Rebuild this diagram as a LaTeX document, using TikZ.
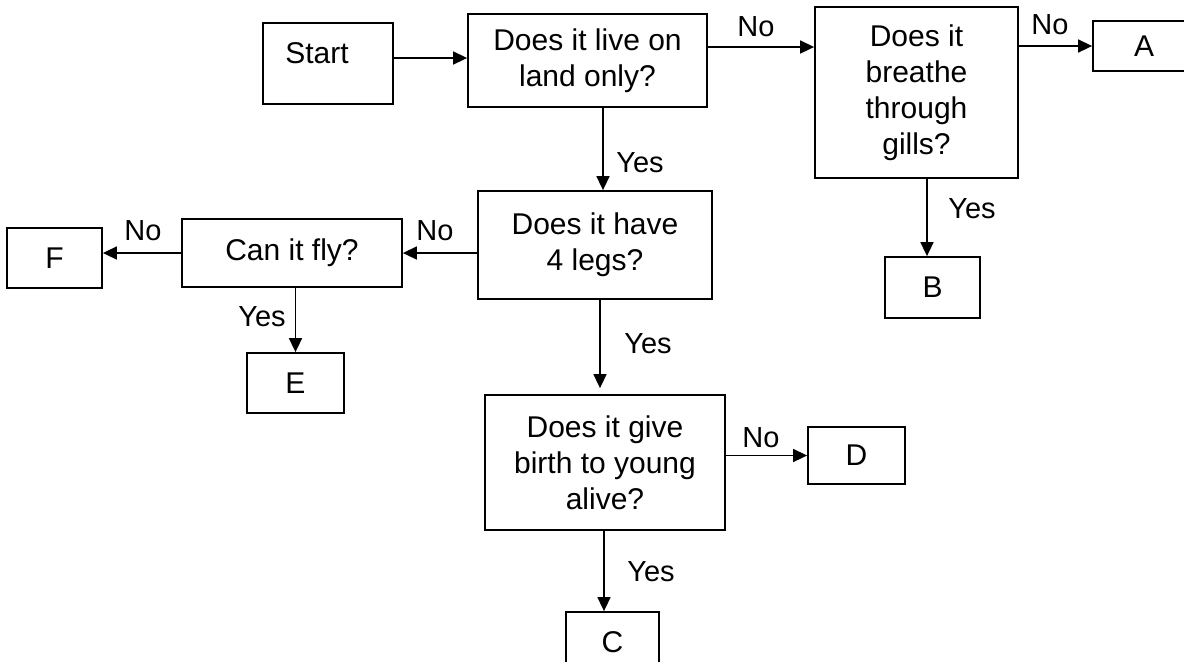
\documentclass[tikz,border=0pt]{standalone}
\usepackage{fontspec}
\setmainfont{Liberation Sans}
\usetikzlibrary{arrows.meta}
\tikzset{
  box/.style={draw, line width=0.9pt, inner sep=0pt, align=center,
    font=\fontsize{15pt}{18pt}\selectfont},
  lbl/.style={inner sep=0pt, font=\fontsize{14.5pt}{16pt}\selectfont},
  arr/.style={line width=0.8pt, -{Triangle[length=7pt,width=6.5pt]}}
}
\begin{document}
\begin{tikzpicture}[x=0.5pt,y=-0.5pt]
\useasboundingbox (0,0) rectangle (1184,661);
% boxes
\node[box, minimum width=65pt, minimum height=40.5pt] (start) at (328,63.5) {\smash{Start}\hspace*{11pt}};
\node[box, minimum width=119.5pt, minimum height=46.5pt] (q1) at (587.5,60.5) {Does it live on\\land only?};
\node[box, minimum width=101.5pt, minimum height=85.5pt] (q2) at (916.5,92.5) {Does it\\breathe\\through\\gills?};
\node[box, minimum width=51pt, minimum height=25pt] (A) at (1144,46) {A};
\node[box, minimum width=47.5pt, minimum height=30.5pt] (B) at (932.5,287.5) {B};
\node[box, minimum width=117pt, minimum height=54pt] (q3) at (595,245) {Does it have\\4 legs?};
\node[box, minimum width=110pt, minimum height=34pt] (fly) at (292,253) {Can it fly?};
\node[box, minimum width=47.5pt, minimum height=30pt] (F) at (54.5,258) {F};
\node[box, minimum width=48.5pt, minimum height=30pt] (E) at (295.5,383) {E};
\node[box, minimum width=120pt, minimum height=67.5pt] (q4) at (605,462.5) {Does it give\\birth to young\\alive?};
\node[box, minimum width=48.5pt, minimum height=28.5pt] (D) at (856.5,455.5) {D};
\node[box, minimum width=46.5pt, minimum height=30pt] (C) at (612.5,642) {C};
% helper coordinates
\coordinate (s1) at ([yshift=2.75pt]start.east);
\coordinate (q1r) at ([yshift=6.75pt]q1.east);
\coordinate (q3in) at ([xshift=4pt]q3.north);
\coordinate (bin) at ([xshift=-2.75pt]B.north);
\coordinate (q4in) at ([xshift=-2.5pt]q4.north);
\coordinate (cin) at ([xshift=-4.25pt]C.north);
% connectors
\draw[arr] (s1) -- (s1 -| q1.west);
\draw[arr] (q1r) -- (q1r -| q2.west);
\draw[arr] (q2.east |- A.west) -- (A.west);
\draw[arr] (q3in |- q1.south) -- (q3in);
\draw[arr] (bin |- q2.south) -- (bin);
\draw[arr] (q3.west |- fly.east) -- (fly.east);
\draw[arr] (fly.west) -- (fly.west -| F.east);
\draw[arr] (E.north |- fly.south) -- (E.north);
\draw[arr, shorten >=3pt] (q4in |- q3.south) -- (q4in);
\draw[arr] (q4.east |- D.west) -- (D.west);
\draw[arr] (cin |- q4.south) -- (cin);
% labels
\node[lbl] (l1) at (756,27) {No};
\node[lbl] (l2) at (1050,25) {No};
\node[lbl] (l3) at (640,163) {Yes};
\node[lbl] (l4) at (972,209) {Yes};
\node[lbl] (l5) at (435,231) {No};
\node[lbl] (l6) at (143,231) {No};
\node[lbl] (l7) at (262,317) {Yes};
\node[lbl] (l8) at (648,344) {Yes};
\node[lbl] (l9) at (761,438) {No};
\node[lbl] (l10) at (651,572) {Yes};
\end{tikzpicture}
\end{document}
